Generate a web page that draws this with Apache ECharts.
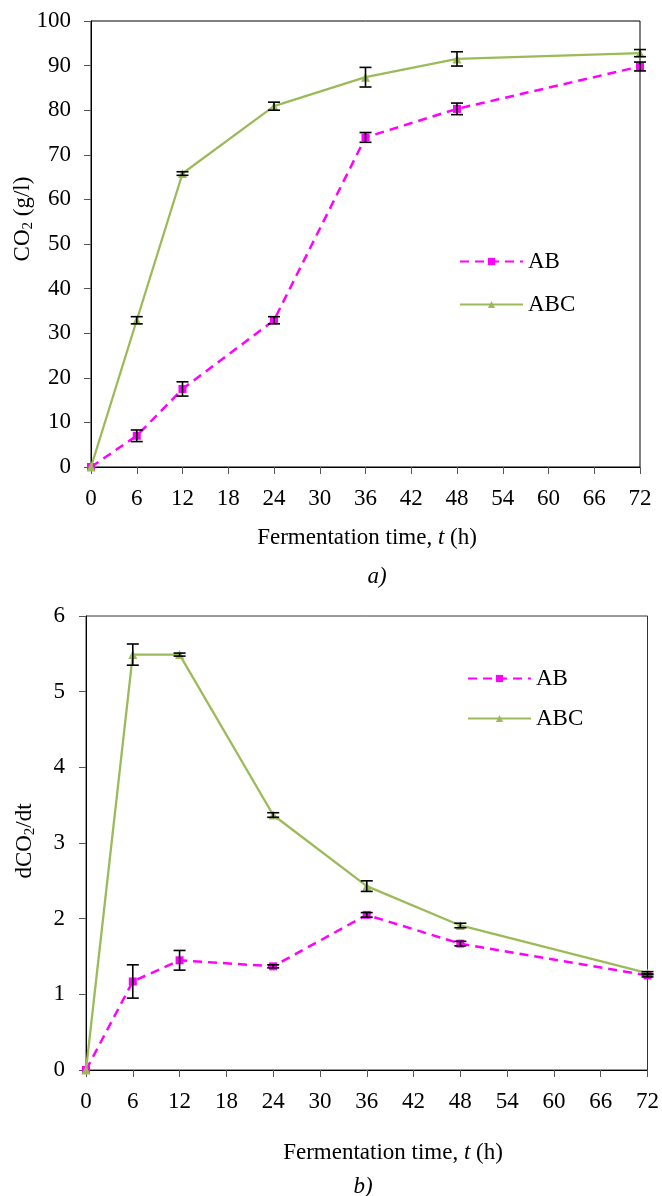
<!DOCTYPE html>
<html>
<head>
    <meta charset="UTF-8">
    <title>CO2 fermentation</title>
    <script src="https://cdn.jsdelivr.net/npm/echarts@6/dist/echarts.min.js"></script>
    <style>
        body { margin: 0; background: #fff; }
        #chart { width: 662px; height: 1196px; }
    </style>
</head>
<body>
<div id="chart"></div>
<script>
    // fermentation time (h)
    var hours = [0, 6, 12, 24, 36, 48, 72];

    // panel a: CO2 (g/l)
    var abCO2 = [0, 7.0, 17.5, 32.9, 73.9, 80.3, 89.8];
    var abCO2Err = [0, 1.3, 1.6, 0.8, 1.1, 1.3, 1.0];
    var abcCO2 = [0, 32.9, 65.8, 80.9, 87.4, 91.5, 92.8];
    var abcCO2Err = [0, 0.8, 0.4, 0.9, 2.2, 1.6, 0.8];

    // panel b: dCO2/dt
    var abRate = [0, 1.17, 1.45, 1.37, 2.05, 1.67, 1.25];
    var abRateErr = [0, 0.22, 0.13, 0.02, 0.03, 0.03, 0.02];
    var abcRate = [0, 5.49, 5.49, 3.37, 2.43, 1.91, 1.28];
    var abcRateErr = [0, 0.14, 0.02, 0.03, 0.07, 0.03, 0.02];

    var FONT = 'Liberation Serif';
    var MAGENTA = '#ff00ff';
    var GREEN = '#9bbb59';

    function pts(vals) {
        return hours.map(function (h, i) { return [h, vals[i]]; });
    }
    function errPts(vals, errs) {
        var out = [];
        for (var i = 0; i < hours.length; i++) {
            if (errs[i] > 0) out.push([hours[i], vals[i], errs[i]]);
        }
        return out;
    }
    // draws an I-shaped error bar
    function errRender(params, api) {
        var x = api.value(0), y = api.value(1), e = api.value(2);
        var top = api.coord([x, y + e]);
        var bot = api.coord([x, y - e]);
        var w = 6;
        var st = { stroke: '#000', lineWidth: 1.6 };
        return {
            type: 'group',
            children: [
                { type: 'line', shape: { x1: top[0], y1: top[1], x2: bot[0], y2: bot[1] }, style: st },
                { type: 'line', shape: { x1: top[0] - w, y1: top[1], x2: top[0] + w, y2: top[1] }, style: st },
                { type: 'line', shape: { x1: bot[0] - w, y1: bot[1], x2: bot[0] + w, y2: bot[1] }, style: st }
            ]
        };
    }

    function xAxisFor(idx, margin) {
        return {
            type: 'value', gridIndex: idx, min: 0, max: 72, interval: 6,
            axisLine: { lineStyle: { color: '#000', width: 1 } },
            axisTick: { show: true, length: 7, lineStyle: { color: '#555' } },
            axisLabel: { margin: margin, color: '#000', fontFamily: FONT, fontSize: 23 },
            splitLine: { show: false }
        };
    }
    function yAxisFor(idx, max, interval, margin) {
        return {
            type: 'value', gridIndex: idx, min: 0, max: max, interval: interval,
            axisLine: { show: true, lineStyle: { color: '#000', width: 1 } },
            axisTick: { show: true, length: 7, lineStyle: { color: '#555' } },
            axisLabel: { margin: margin, color: '#000', fontFamily: FONT, fontSize: 23 },
            splitLine: { show: false }
        };
    }

    function lineSeries(name, data, idx, dashed) {
        return {
            name: name, type: 'line', xAxisIndex: idx, yAxisIndex: idx,
            data: pts(data),
            symbol: dashed ? 'rect' : 'triangle',
            symbolSize: dashed ? 8 : 9,
            itemStyle: { color: dashed ? MAGENTA : GREEN },
            lineStyle: dashed
                ? { color: MAGENTA, width: 2.5, type: [9, 6] }
                : { color: GREEN, width: 2.3, type: 'solid' },
            z: dashed ? 3 : 4
        };
    }
    function errSeries(vals, errs, idx) {
        return {
            name: 'err', type: 'custom', xAxisIndex: idx, yAxisIndex: idx,
            renderItem: errRender, data: errPts(vals, errs), z: 6, silent: true
        };
    }

    var legendText = { color: '#000', fontFamily: FONT, fontSize: 23 };
    var richText = {
        n: { fontFamily: FONT, fontSize: 23, fill: '#000' },
        i: { fontFamily: FONT, fontSize: 23, fontStyle: 'italic', fill: '#000' },
        s: { fontFamily: FONT, fontSize: 15, fill: '#000', padding: [10, 0, 0, 0] }
    };
    function label(txt, x, y, rot) {
        return { type: 'text', x: x, y: y, rotation: rot || 0, style: {
            text: txt, align: 'center', verticalAlign: 'middle', rich: richText } };
    }

    var option = {
        animation: false,
        backgroundColor: '#fff',
        grid: [
            { left: 91, top: 21, width: 549, height: 446, show: true, borderColor: '#000', borderWidth: 1 },
            { left: 86, top: 616, width: 563, height: 454, show: true, borderColor: '#333', borderWidth: 1 }
        ],
        legend: [
            { data: ['AB', 'ABC'], orient: 'vertical', left: 454, top: 245, itemWidth: 63, itemHeight: 9,
              itemGap: 20, textStyle: legendText },
            { data: ['AB', 'ABC'], orient: 'vertical', left: 462, top: 662, itemWidth: 63, itemHeight: 9,
              itemGap: 17, textStyle: legendText }
        ],
        xAxis: [xAxisFor(0, 20), xAxisFor(1, 20)],
        yAxis: [yAxisFor(0, 100, 10, 20), yAxisFor(1, 6, 1, 21)],
        graphic: [
            label('{n|CO}{s|2}{n| (g/l)}', 23, 219, Math.PI / 2),
            label('{n|dCO}{s|2}{n|/dt}', 25, 841, Math.PI / 2),
            label('{n|Fermentation time, }{i|t}{n| (h)}', 367, 538),
            label('{i|a)}', 377, 577),
            label('{n|Fermentation time, }{i|t}{n| (h)}', 393, 1153),
            label('{i|b)}', 363, 1187)
        ],
        series: [
            lineSeries('AB', abCO2, 0, true),
            lineSeries('ABC', abcCO2, 0, false),
            errSeries(abCO2, abCO2Err, 0),
            errSeries(abcCO2, abcCO2Err, 0),
            lineSeries('AB', abRate, 1, true),
            lineSeries('ABC', abcRate, 1, false),
            errSeries(abRate, abRateErr, 1),
            errSeries(abcRate, abcRateErr, 1)
        ]
    };

    var chart = echarts.init(document.getElementById('chart'));
    chart.setOption(option);
</script>
</body>
</html>
